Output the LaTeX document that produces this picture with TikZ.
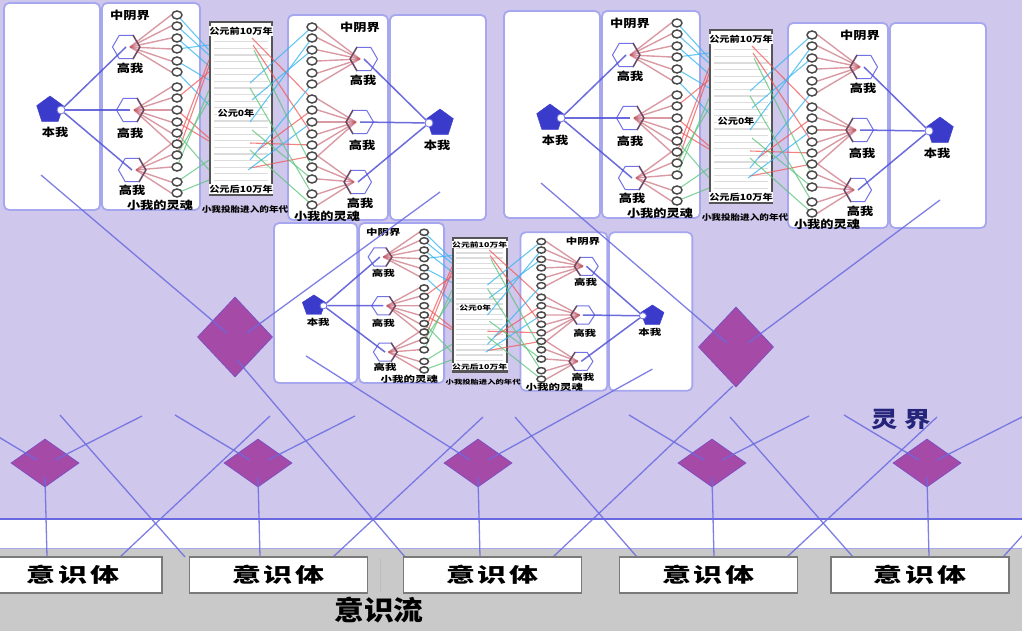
\documentclass[tikz,border=0pt]{standalone}
\usepackage{fontspec}
\setmainfont{Noto Sans CJK SC}
\newfontfamily\fntpanel[FakeStretch=1.2]{Noto Sans CJK SC}
\newfontfamily\fntwide[FakeStretch=1.45]{Noto Sans CJK SC}
\newfontfamily\fntbig[FakeStretch=1.1]{Noto Sans CJK SC}
\usetikzlibrary{shapes.geometric}

\definecolor{lav}{HTML}{CFC7EC}
\definecolor{boxline}{HTML}{A7A7EF}
\definecolor{eragray}{HTML}{555555}
\definecolor{stripegray}{HTML}{DCDCDC}
\definecolor{ringgray}{HTML}{4A4A4A}
\definecolor{hexblue}{HTML}{7272E6}
\definecolor{pentablue}{HTML}{3B3BCB}
\definecolor{selfblue}{HTML}{5252D6}
\definecolor{fanred}{HTML}{C25868}
\definecolor{hexdark}{HTML}{6E4850}
\definecolor{cy}{HTML}{35B5F0}
\definecolor{rd}{HTML}{F05858}
\definecolor{gr}{HTML}{5CC47C}
\definecolor{diam}{HTML}{A64AA8}
\definecolor{diamedge}{HTML}{7E4EC0}
\definecolor{longblue}{HTML}{6A6AE0}
\definecolor{botgray}{HTML}{C9C9C9}
\definecolor{ysgray}{HTML}{7A7A7A}
\definecolor{lingjie}{HTML}{24247A}

\tikzset{
  panelbox/.style={draw=boxline, line width=1.8pt, fill=white, rounded corners=5pt, inner sep=0pt},
  erabox/.style={draw=eragray, line width=2.2pt, fill=white, inner sep=0pt},
  stripe/.style={draw=stripegray, line width=1.3pt},
  ring/.style={ellipse, draw=ringgray, line width=1.5pt, fill=white, minimum width=10pt, minimum height=8pt, inner sep=0pt},
  hexnode/.style={regular polygon, regular polygon sides=6, draw=hexblue, line width=1pt, fill=white, minimum size=27pt, inner sep=0pt},
  pentanode/.style={regular polygon, regular polygon sides=5, fill=pentablue, draw=pentablue, minimum size=28pt, inner sep=0pt},
  hub/.style={circle, draw=hexblue, fill=white, line width=0.8pt, minimum size=8pt, inner sep=0pt},
  fan/.style={draw=fanred, line width=1.4pt, opacity=0.6},
  hexedge/.style={draw=hexdark, line width=1.2pt},
  selfline/.style={draw=selfblue, line width=1.5pt, opacity=0.85},
  clr/.style={draw=#1, line width=1.1pt, opacity=0.75},
  ptext/.style={font=\fntpanel\bfseries\fontsize{11}{12}\selectfont, inner sep=0pt},
  eratext/.style={font=\fntpanel\bfseries\fontsize{8.5}{9}\selectfont, inner sep=0.6pt, fill=white},
  yeartext/.style={font=\fntpanel\bfseries\fontsize{8}{9}\selectfont, inner sep=0pt},
  bigdiam/.style={diamond, fill=diam, draw=diamedge, line width=0.8pt, minimum width=75pt, minimum height=80pt, inner sep=0pt},
  smalldiam/.style={diamond, fill=diam, draw=diamedge, line width=0.8pt, minimum width=68pt, minimum height=48pt, inner sep=0pt},
  longline/.style={draw=longblue, line width=1.3pt, opacity=0.85},
  ysbox/.style={draw=ysgray, line width=1.3pt, fill=white, minimum width=178pt, minimum height=36pt, inner sep=0pt, font=\fntwide\bfseries\fontsize{20}{22}\selectfont},
}

\newcommand\drawpanel[1]{%
  % boxes
  \node[panelbox, minimum width=96pt, minimum height=207pt] (#1bA) at (52,106.5) {};
  \node[panelbox, minimum width=98pt, minimum height=207pt] (#1bB) at (151,106.5) {};
  \node[panelbox, minimum width=100pt, minimum height=205pt] (#1bC) at (338,117.5) {};
  \node[panelbox, minimum width=96pt, minimum height=205pt] (#1bD) at (438,117.5) {};
  % era box
  \node[erabox, minimum width=62pt, minimum height=173pt] (#1era) at (241,108.5) {};
  \foreach \k in {1,...,25} \draw[stripe] (214,{22+\k*6.6}) -- (268,{22+\k*6.6});
  \node[eratext] (#1e1) at (241,31) {公元前10万年};
  \node[eratext] (#1e2) at (236,113) {公元0年};
  \node[eratext] (#1e3) at (241,189) {公元后10万年};
  \node[yeartext] (#1e4) at (245,209) {小我投胎进入的年代};
  % circle coordinates
  \foreach \y [count=\i] in {15,26,38,49,61,72,87,98,110,122,133,144,155,167,182,193} {
    \coordinate (#1pL\i) at (177,\y);
    \coordinate (#1pR\i) at (312,{\y+12});
  }
  % coloured lines, left side
  \foreach \c/\yb/\col [count=\n] in {2/55/cy,3/66/cy,4/45/cy,5/80/cy,6/105/cy,1/50/cy,
      12/60/rd,13/66/rd,9/138/rd,10/141/rd,8/72/rd,
      14/90/gr,15/160/gr,16/180/gr,13/100/gr,11/170/gr} {
    \coordinate (#1eL\n) at (209,\yb);
    \draw[clr=\col] (#1pL\c) -- (#1eL\n);
  }
  % coloured lines, right side
  \foreach \xa/\ya/\c/\col [count=\n] in {252/38/7/rd,253/45/10/rd,250/143/11/rd,250/168/12/rd,258/150/8/rd,
      250/83/1/cy,250/122/2/cy,252/100/3/cy,248/170/9/cy,250/160/6/cy,
      254/50/13/gr,250/88/15/gr,250/150/16/gr,252/130/14/gr} {
    \coordinate (#1eR\n) at (\xa,\ya);
    \draw[clr=\col] (#1eR\n) -- (#1pR\c);
  }
  % rings
  \foreach \i in {1,...,16} {
    \node[ring] (#1cL\i) at (#1pL\i) {};
    \node[ring] (#1cR\i) at (#1pR\i) {};
  }
  % hexagons
  \node[hexnode] (#1hL1) at (126,47) {};
  \node[hexnode] (#1hL2) at (130,110) {};
  \node[hexnode] (#1hL3) at (132,170) {};
  \node[hexnode] (#1hR1) at (364,59) {};
  \node[hexnode] (#1hR2) at (360,122) {};
  \node[hexnode] (#1hR3) at (358,182) {};
  \coordinate (#1fL1) at (130,47);
  \coordinate (#1fL2) at (134,110);
  \coordinate (#1fL3) at (136,170);
  \coordinate (#1fR1) at (360,59);
  \coordinate (#1fR2) at (356,122);
  \coordinate (#1fR3) at (354,182);
  \foreach \h/\a/\b in {1/1/6,2/7/12,3/12/16} {
    \foreach \i in {\a,...,\b} {
      \draw[fan] (#1fL\h) -- (#1cL\i.west);
      \draw[fan] (#1fR\h) -- (#1cR\i.east);
    }
    \draw[hexedge] (#1hL\h.corner 1) -- (#1hL\h.corner 6) -- (#1hL\h.corner 5);
    \draw[hexedge] (#1hR\h.corner 2) -- (#1hR\h.corner 3) -- (#1hR\h.corner 4);
  }
  % the self
  \node[pentanode] (#1bwL) at (50,110) {};
  \node[hub] (#1hubL) at (61,110) {};
  \node[pentanode] (#1bwR) at (440,123) {};
  \node[hub] (#1hubR) at (429,123) {};
  \foreach \h in {1,2,3} {
    \draw[selfline] (#1hubL) -- (#1hL\h.center);
    \draw[selfline] (#1hubR) -- (#1hR\h.center);
  }
  % labels
  \node[ptext] (#1zL) at (130,15) {中阴界};
  \node[ptext] (#1zR) at (360,27) {中阴界};
  \node[ptext] (#1gL1) at (130,68) {高我};
  \node[ptext] (#1gL2) at (130,133) {高我};
  \node[ptext] (#1gL3) at (132,190) {高我};
  \node[ptext] (#1gR1) at (363,80) {高我};
  \node[ptext] (#1gR2) at (362,145) {高我};
  \node[ptext] (#1gR3) at (360,203) {高我};
  \node[ptext] (#1bL) at (55,132) {本我};
  \node[ptext] (#1bR) at (437,145) {本我};
  \node[ptext] (#1sL) at (160,205) {小我的灵魂};
  \node[ptext] (#1sR) at (327,216) {小我的灵魂};
  % start points of the long connectors
  \coordinate (#1la) at (41,175);
  \coordinate (#1ld) at (440,192);
}

\begin{document}
\begin{tikzpicture}[x=1pt,y=-1pt]
\useasboundingbox (0,0) rectangle (1022,631);
\clip (0,0) rectangle (1022,631);
% background bands
\fill[lav] (0,0) rectangle (1022,520);
\fill[white] (0,520) rectangle (1022,548);
\fill[botgray] (0,548) rectangle (1022,631);
\draw[longblue, line width=1.6pt] (0,519) -- (1022,519);
\draw[boxline, line width=1pt] (0,548) -- (1022,548);
\draw[ysgray!50, line width=0.8pt] (380,558) -- (380,592);

% panels
\begin{scope}
  \drawpanel{p1}
\end{scope}
\begin{scope}[shift={(500,8)}]
  \drawpanel{p2}
\end{scope}
\begin{scope}[shift={(270.5,220.7)}, xscale=0.868, yscale=0.773, transform shape]
  \drawpanel{p3}
\end{scope}

% diamonds
\node[bigdiam] (D1) at (235,337) {};
\node[bigdiam] (D2) at (736,347) {};
\foreach \x [count=\i] in {45,258,478,712,927} {
  \node[smalldiam] (s\i) at (\x,463) {};
  \coordinate (s\i-in) at ({\x-8},460);
  \coordinate (s\i-out) at ({\x+10},460);
  \coordinate (s\i-bot) at (\x,477);
  \coordinate (s\i-ul) at ({\x-83},415);
  \coordinate (s\i-ur) at ({\x+97},416);
  \coordinate (s\i-end) at ({\x+2},557);
}
\coordinate (D1in) at (227,333);
\coordinate (D1out) at (247,333);
\coordinate (D1bot) at (237,360);
\coordinate (D2in) at (727,343);
\coordinate (D2out) at (748,343);
\coordinate (D2bot) at (733,386);
\coordinate (e6) at (405,557);
\coordinate (e7) at (553,557);

% long connectors
\draw[longline] (p1la) -- (D1in);
\draw[longline] (D1out) -- (p1ld);
\draw[longline] (p2la) -- (D2in);
\draw[longline] (D2out) -- (p2ld);
\draw[longline] (p3la) -- (s3-in);
\draw[longline] (s3-out) -- (p3ld);
\draw[longline] (D1bot) -- (e6);
\draw[longline] (D2bot) -- (e7);
\foreach \i in {1,2,4,5} {
  \draw[longline] (s\i-ul) -- (s\i-in);
  \draw[longline] (s\i-out) -- (s\i-ur);
}
\foreach \i in {1,...,5} \draw[longline] (s\i-bot) -- (s\i-end);
% crossing lines of the lattice
\foreach \xa/\ya/\xb [count=\n] in {60/415/185, 270/416/120, 483/417/333, 515/417/637,
    730/417/853, 937/417/787, 1042/514/1003} {
  \coordinate (x\n-a) at (\xa,\ya);
  \coordinate (x\n-b) at (\xb,557);
  \draw[longline] (x\n-a) -- (x\n-b);
}

% consciousness bodies
\foreach \cx [count=\i] in {73,278.5,492.5,708.5,920} {
  \node[ysbox] (y\i) at (\cx,575) {意\hspace{3pt}识\hspace{3pt}体\hspace{30pt}};
}
\node[font=\fntbig\bfseries\fontsize{27}{30}\selectfont, inner sep=0pt] (ysl) at (379,610) {意识流};
\node[font=\fntpanel\bfseries\fontsize{22}{24}\selectfont, text=lingjie, inner sep=0pt] (lj) at (901,420) {灵\hspace{6pt}界};
\end{tikzpicture}
\end{document}
